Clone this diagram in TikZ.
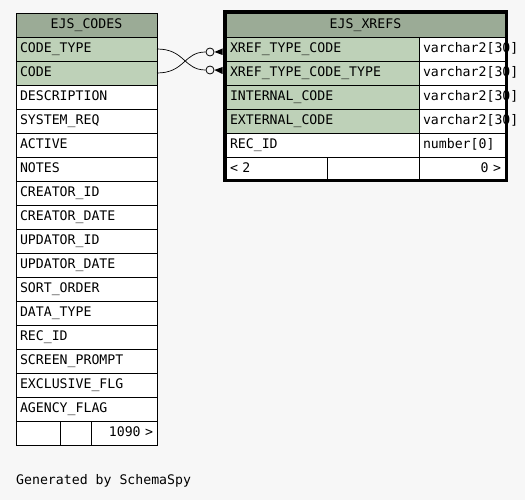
\documentclass[tikz,border=0pt]{standalone}
\usepackage{fontspec}
\newfontfamily\dbfont{DejaVu Sans Mono}
\definecolor{pagebg}{HTML}{F7F7F7}
\definecolor{headbg}{HTML}{9BAB96}
\definecolor{keybg}{HTML}{BED1B8}
\begin{document}
\begin{tikzpicture}[x=1pt, y=-1pt,
		cell/.style={draw, line width=0.8pt, anchor=north west, outer sep=0pt, inner xsep=4pt, inner ysep=0pt,
			minimum height=24pt, text height=9.8pt, text depth=2.6pt, font=\fontsize{13.2}{15}\dbfont},
		colrow/.style={cell, fill=white, text width=133pt, align=left},
		keyrow/.style={colrow, fill=keybg},
		headrow/.style={cell, fill=headbg, align=center},
		namecell/.style={cell, fill=white, text width=185pt, align=left},
		keycell/.style={namecell, fill=keybg},
		typecell/.style={cell, fill=white, text width=78pt, align=left},
		ring/.style={circle, draw, line width=0.8pt, fill=pagebg, minimum size=8pt, inner sep=0pt}]
		\useasboundingbox (0, 0) rectangle (525, 500);
		\fill[pagebg] (0, 0) rectangle (525, 500);
		
		% EJS_CODES
		\node[headrow, minimum width=141pt] (codes) at (16, 13) {EJS\_CODES};
		\node[keyrow] (codetype) at (16, 37) {CODE\_TYPE};
		\node[keyrow] (code) at (16, 61) {CODE};
		\node[colrow] (descr) at (16, 85) {DESCRIPTION};
		\node[colrow] (sysreq) at (16, 109) {SYSTEM\_REQ};
		\node[colrow] (active) at (16, 133) {ACTIVE};
		\node[colrow] (notes) at (16, 157) {NOTES};
		\node[colrow] (creatorid) at (16, 181) {CREATOR\_ID};
		\node[colrow] (creatordate) at (16, 205) {CREATOR\_DATE};
		\node[colrow] (updatorid) at (16, 229) {UPDATOR\_ID};
		\node[colrow] (updatordate) at (16, 253) {UPDATOR\_DATE};
		\node[colrow] (sortorder) at (16, 277) {SORT\_ORDER};
		\node[colrow] (datatype) at (16, 301) {DATA\_TYPE};
		\node[colrow] (recid) at (16, 325) {REC\_ID};
		\node[colrow] (screenprompt) at (16, 349) {SCREEN\_PROMPT};
		\node[colrow] (exclflg) at (16, 373) {EXCLUSIVE\_FLG};
		\node[colrow] (agencyflag) at (16, 397) {AGENCY\_FLAG};
		\node[cell, fill=white, minimum width=44pt] (codesfa) at (16, 421) {};
		\node[cell, fill=white, minimum width=31pt] (codesfb) at (60, 421) {};
		\node[cell, fill=white, text width=58pt, align=right] (codesfc) at (91, 421) {1090 >};
		
		% EJS_XREFS
		\node[headrow, minimum width=279pt] (xrefs) at (226, 13) {EJS\_XREFS};
		\node[keycell] (xtcode) at (226, 37) {XREF\_TYPE\_CODE};
		\node[typecell] (xtcodet) at (419, 37) {varchar2[30]};
		\node[keycell] (xtcodetype) at (226, 61) {XREF\_TYPE\_CODE\_TYPE};
		\node[typecell] (xtcodetypet) at (419, 61) {varchar2[30]};
		\node[keycell] (intcode) at (226, 85) {INTERNAL\_CODE};
		\node[typecell] (intcodet) at (419, 85) {varchar2[30]};
		\node[keycell] (extcode) at (226, 109) {EXTERNAL\_CODE};
		\node[typecell] (extcodet) at (419, 109) {varchar2[30]};
		\node[namecell] (xrecid) at (226, 133) {REC\_ID};
		\node[typecell] (xrecidt) at (419, 133) {number[0]};
		\node[cell, fill=white, text width=93pt, align=left] (xrefsfa) at (226, 157) {< 2};
		\node[cell, fill=white, minimum width=92pt] (xrefsfb) at (327, 157) {};
		\node[cell, fill=white, text width=78pt, align=right] (xrefsfc) at (419, 157) {0 >};
		\draw[line width=3.3pt] (224.3, 11.8) rectangle (506.7, 180.7);
		
		% relationships
		\node[ring] (ringa) at (210, 52) {};
		\node[ring] (ringb) at (210, 70) {};
		\draw[line width=0.7pt] (codetype.east) .. controls +(28, 0) and +(-22, 0) .. (ringb.west);
		\draw[line width=0.7pt] (code.east) .. controls +(28, 0) and +(-22, 0) .. (ringa.west);
		\fill (ringa.east) -- (222.5, 48.5) -- (222.5, 55) -- cycle;
		\fill (ringb.east) -- (222.5, 67) -- (222.5, 74) -- cycle;
		
		\node[anchor=west, inner sep=0pt, font=\fontsize{13.2}{15}\dbfont] (credit) at (16, 481) {Generated by SchemaSpy};
	\end{tikzpicture}
\end{document}
